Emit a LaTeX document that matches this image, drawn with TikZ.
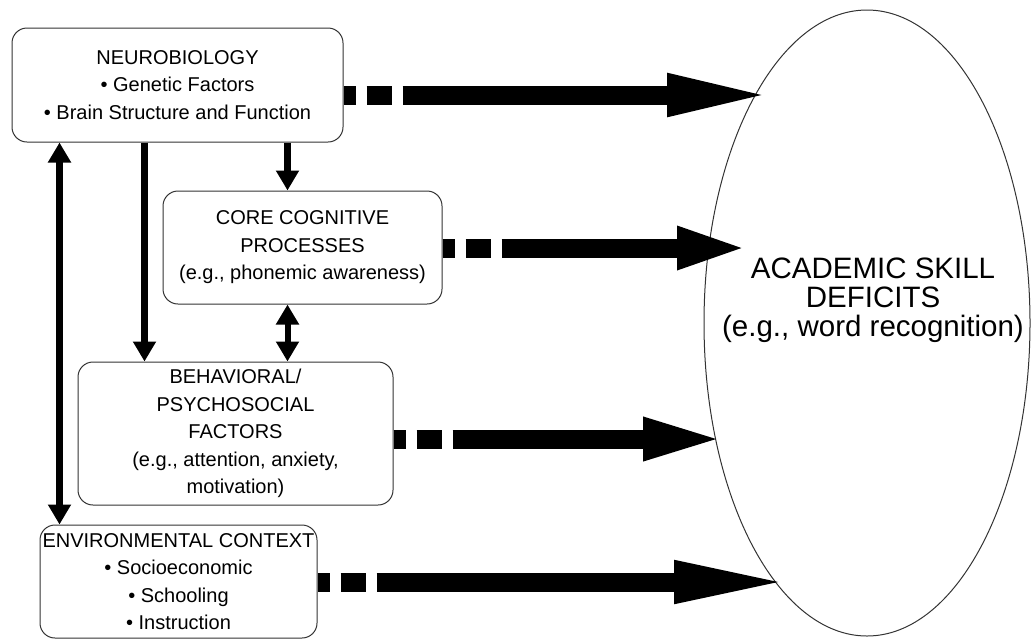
\documentclass[tikz,border=0pt]{standalone}
\usepackage{fontspec}
\setmainfont{Liberation Sans}
\usetikzlibrary{arrows.meta,shapes.geometric}
\begin{document}
\begin{tikzpicture}[x=1pt,y=-1pt]
    \tikzset{
        box/.style={draw=black!80, line width=1pt, rounded corners=15pt, align=center, inner sep=0pt, font=\fontsize{20}{27.5}\selectfont},
        deficit/.style={draw=black!80, line width=1pt, ellipse, minimum width=326pt, minimum height=626pt, inner sep=0pt},
        bigtext/.style={align=center, font=\fontsize{29.5}{29}\selectfont},
        bigarrow/.style={line width=19pt, -{Triangle[length=#1pt, width=38pt]}, dash pattern=on 12pt off 11pt on 25pt off 11pt on 3000pt},
        downarrow/.style={line width=7pt, -{Triangle[length=20pt, width=22pt]}},
        botharrow/.style={line width=#1pt, {Triangle[length=20pt, width=22pt]}-{Triangle[length=20pt, width=22pt]}}
    }
    \useasboundingbox (0,0) rectangle (1032,641);

    \draw node[box, minimum width=331pt, minimum height=114pt] (neuro) at (177.5,85) {NEUROBIOLOGY\\ • Genetic Factors\\ • Brain Structure and Function};
    \draw node[box, minimum width=279pt, minimum height=113pt] (core) at (302.5,247.5) {CORE COGNITIVE\\ PROCESSES\\ (e.g., phonemic awareness)};
    \draw node[box, minimum width=315pt, minimum height=143pt] (behav) at (235.5,433.5) {BEHAVIORAL/\\ PSYCHOSOCIAL\\ FACTORS\\ (e.g., attention, anxiety,\\ motivation)};
    \draw node[box, minimum width=277pt, minimum height=113pt] (env) at (178.5,581.5) {ENVIRONMENTAL CONTEXT\\ • Socioeconomic\\ • Schooling\\ • Instruction};
    \draw node[deficit] (asd) at (867,323) {};
    \node[bigtext] (asdtext) at ([xshift=6pt, yshift=23pt]asd.center) {ACADEMIC SKILL\\ DEFICITS\\ (e.g., word recognition)};

    % tips of the big arrows
    \coordinate (t1) at (775,95);
    \coordinate (t2) at (750,248);
    \coordinate (t3) at (727,439);
    \coordinate (t4) at (793,582);
    \foreach \src/\tip/\len in {%
        neuro/t1/108, core/t2/73, behav/t3/84, env/t4/119%
    }{
        \draw[bigarrow=\len] (\tip -| \src.east) -- (\tip);
    }

    \draw[downarrow] ([xshift=125pt]core.north west |- neuro.south) -- ([xshift=125pt]core.north west);
    \draw[downarrow] ([xshift=133pt]neuro.south west) -- ([xshift=133pt]neuro.south west |- behav.north);
    \draw[botharrow=7] ([xshift=48pt]neuro.south west) -- ([xshift=48pt]neuro.south west |- env.north);
    \draw[botharrow=6] ([xshift=125pt]core.south west) -- ([xshift=125pt]core.south west |- behav.north);
\end{tikzpicture}
\end{document}
